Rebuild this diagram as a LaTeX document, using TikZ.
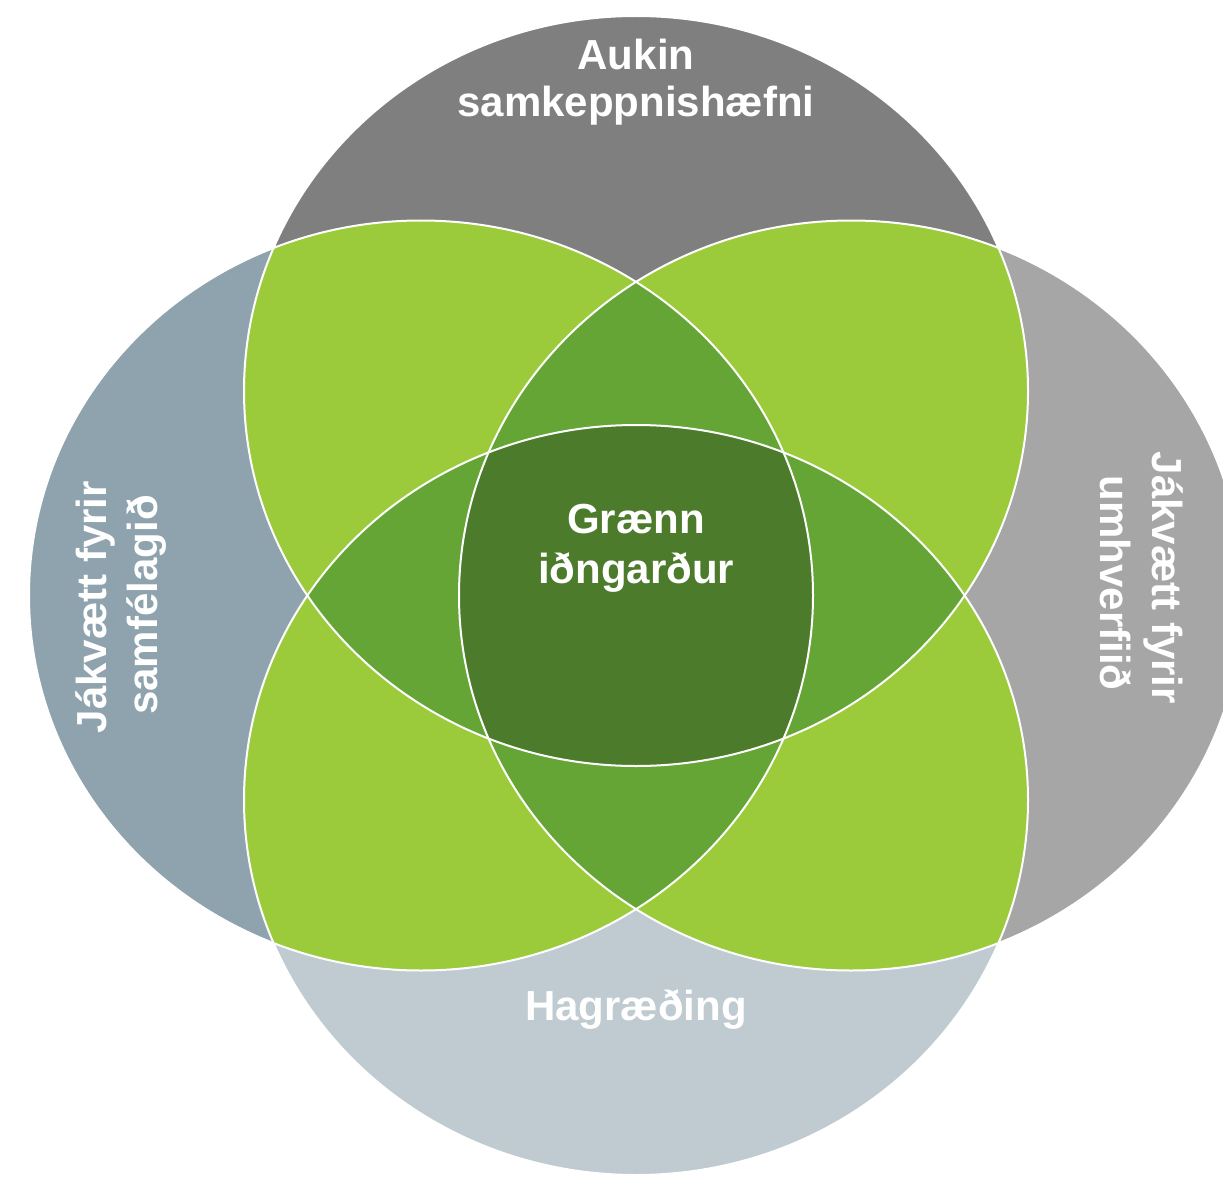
\documentclass[tikz,border=0pt]{standalone}
\usepackage{fontspec}
\setmainfont{Liberation Sans}
\definecolor{cTop}{HTML}{7F7F7F}
\definecolor{cLeft}{HTML}{8EA3AD}
\definecolor{cRight}{HTML}{A6A6A6}
\definecolor{cBot}{HTML}{BFCBD1}
\definecolor{gLight}{HTML}{9BCB3B}
\definecolor{gMid}{HTML}{64A535}
\definecolor{gDark}{HTML}{4B7B2B}
\begin{document}
\begin{tikzpicture}[x=1pt,y=-1pt,
  lbl/.style={text=white,font=\fontsize{42}{50}\selectfont\bfseries,inner sep=0pt},
  rim/.style={draw=white,line width=2pt}]
\useasboundingbox (0,0) rectangle (1223,1177);
\def\CirT{(636,391) ellipse [x radius=392pt,y radius=375pt]}
\def\CirB{(636,800) ellipse [x radius=392pt,y radius=375pt]}
\def\CirL{(421,595.5) ellipse [x radius=392pt,y radius=375pt]}
\def\CirR{(851,595.5) ellipse [x radius=392pt,y radius=375pt]}
% base circles
\fill[cTop] \CirT;
\fill[cLeft] \CirL;
\fill[cRight] \CirR;
\fill[cBot] \CirB;
% pairwise overlaps
\begin{scope}\clip \CirT; \fill[gLight] \CirL; \end{scope}
\begin{scope}\clip \CirT; \fill[gLight] \CirR; \end{scope}
\begin{scope}\clip \CirB; \fill[gLight] \CirL; \end{scope}
\begin{scope}\clip \CirB; \fill[gLight] \CirR; \end{scope}
\begin{scope}\clip \CirT; \fill[gLight] \CirB; \end{scope}
\begin{scope}\clip \CirL; \fill[gLight] \CirR; \end{scope}
% triple overlaps
\begin{scope}\clip \CirT; \clip \CirL; \fill[gMid] \CirR; \end{scope}
\begin{scope}\clip \CirT; \clip \CirL; \fill[gMid] \CirB; \end{scope}
\begin{scope}\clip \CirT; \clip \CirR; \fill[gMid] \CirB; \end{scope}
\begin{scope}\clip \CirL; \clip \CirR; \fill[gMid] \CirB; \end{scope}
% all four
\begin{scope}\clip \CirT; \clip \CirL; \clip \CirR; \fill[gDark] \CirB; \end{scope}
% outlines
\path[rim] \CirT;
\path[rim] \CirL;
\path[rim] \CirR;
\path[rim] \CirB;
% labels
\node[lbl,anchor=base] (t1) at (636,70) {Aukin};
\node[lbl,anchor=base] (t2) at (636,117) {samkeppnishæfni};
\node[lbl,anchor=base] (c1) at (636,533) {Grænn};
\node[lbl,anchor=base] (c2) at (636,583) {iðngarður};
\node[lbl,anchor=base] (b1) at (636,1020) {Hagræðing};
\node[lbl,rotate=90,anchor=base] (l1) at (106,607) {Jákvætt fyrir};
\node[lbl,rotate=90,anchor=base] (l2) at (157,605) {samfélagið};
\node[lbl,rotate=-90,anchor=base] (r1) at (1152,578) {Jákvætt fyrir};
\node[lbl,rotate=-90,anchor=base] (r2) at (1100,583) {umhverfiið};
\end{tikzpicture}
\end{document}
